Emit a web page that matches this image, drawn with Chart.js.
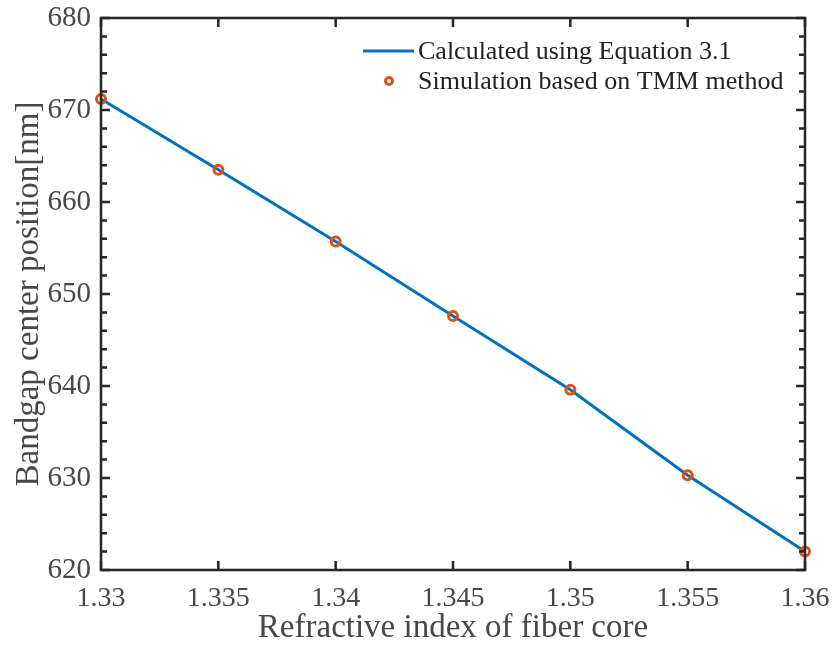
<!DOCTYPE html>
<html>
<head>
<meta charset="utf-8">
<script src="https://cdn.jsdelivr.net/npm/chart.js@4/dist/chart.umd.min.js"></script>
<style>
  html, body { margin: 0; padding: 0; background: #fff; }
  #wrap { width: 833px; height: 648px; }
</style>
</head>
<body>
<div id="wrap"><canvas id="c"></canvas></div>
<script>
// refractive index of the fiber core
const coreIndex = [1.33, 1.335, 1.34, 1.345, 1.35, 1.355, 1.36];
// bandgap centre from Equation 3.1 [nm]
const calcCenter = [671.2, 663.5, 655.7, 647.6, 639.6, 630.3, 622.0];
// bandgap centre from TMM simulation [nm]
const tmmCenter = [671.2, 663.5, 655.7, 647.6, 639.6, 630.3, 622.0];

const xTicks = [1.33, 1.335, 1.34, 1.345, 1.35, 1.355, 1.36];
const yTicks = [620, 630, 640, 650, 660, 670, 680];

const AXIS = "#262626";
const TEXT = "#474747";
const SERIF = "'Liberation Serif', 'DejaVu Serif', serif";

const toPts = (xs, ys) => xs.map((x, i) => ({ x: x, y: ys[i] }));

// MATLAB-style box with inward ticks
const boxAxes = {
  id: "boxAxes",
  afterDatasetsDraw(chart) {
    const { ctx, chartArea: a, scales } = chart;
    const xs = scales.x, ys = scales.y;
    ctx.save();
    ctx.strokeStyle = AXIS;
    ctx.lineWidth = 2.5;
    ctx.beginPath();
    xTicks.forEach(v => {
      const px = xs.getPixelForValue(v);
      ctx.moveTo(px, a.bottom); ctx.lineTo(px, a.bottom - 9);
      ctx.moveTo(px, a.top); ctx.lineTo(px, a.top + 9);
    });
    for (let v = 620; v <= 680; v += 2) {
      const len = (v % 10 === 0) ? 9 : 6;
      const py = ys.getPixelForValue(v);
      ctx.moveTo(a.left, py); ctx.lineTo(a.left + len, py);
      ctx.moveTo(a.right, py); ctx.lineTo(a.right - len, py);
    }
    ctx.stroke();
    ctx.strokeRect(a.left, a.top, a.right - a.left, a.bottom - a.top);
    ctx.restore();
  }
};

// legend in the upper right corner
const boxLegend = {
  id: "boxLegend",
  afterDraw(chart) {
    const { ctx } = chart;
    const ds = chart.data.datasets;
    ctx.save();
    ctx.font = "26px " + SERIF;
    ctx.fillStyle = "#222";
    ctx.textBaseline = "middle";
    ctx.textAlign = "left";
    // line entry
    ctx.strokeStyle = ds[0].borderColor;
    ctx.lineWidth = 3;
    ctx.beginPath();
    ctx.moveTo(363, 51); ctx.lineTo(414, 51);
    ctx.stroke();
    ctx.fillText(ds[0].label, 418, 52);
    // marker entry
    ctx.strokeStyle = ds[1].pointBorderColor;
    ctx.lineWidth = 3;
    ctx.beginPath();
    ctx.arc(389, 81, 3.5, 0, Math.PI * 2);
    ctx.stroke();
    ctx.fillText(ds[1].label, 418, 82);
    ctx.restore();
  }
};

new Chart(document.getElementById("c"), {
  type: "scatter",
  data: {
    datasets: [
      {
        label: "Calculated using Equation 3.1",
        data: toPts(coreIndex, calcCenter),
        showLine: true,
        borderColor: "#0072BD",
        borderWidth: 3,
        pointRadius: 0,
        tension: 0,
        clip: false,
        order: 2
      },
      {
        label: "Simulation based on TMM method",
        data: toPts(coreIndex, tmmCenter),
        showLine: false,
        pointRadius: 4.5,
        pointBorderWidth: 3,
        pointBorderColor: "#D95319",
        pointBackgroundColor: "rgba(0,0,0,0)",
        clip: false,
        order: 1
      }
    ]
  },
  options: {
    responsive: true,
    maintainAspectRatio: false,
    animation: false,
    layout: { padding: { top: 18, right: 28, left: 0, bottom: 0 } },
    plugins: { legend: { display: false }, tooltip: { enabled: false } },
    scales: {
      x: {
        type: "linear",
        min: 1.33,
        max: 1.36,
        afterBuildTicks: s => { s.ticks = xTicks.map(v => ({ value: v })); },
        afterFit: s => { s.height = 78; s.paddingLeft = 0; s.paddingRight = 0; },
        grid: { display: false, drawTicks: false },
        border: { display: false },
        ticks: {
          color: TEXT,
          padding: 12,
          maxRotation: 0,
          font: { family: SERIF, size: 28 },
          callback: v => String(parseFloat(v.toFixed(3)))
        },
        title: {
          display: true,
          text: "Refractive index of fiber core",
          color: TEXT,
          padding: { top: 0, bottom: 0 },
          font: { family: SERIF, size: 33 }
        }
      },
      y: {
        type: "linear",
        min: 620,
        max: 680,
        afterBuildTicks: s => { s.ticks = yTicks.map(v => ({ value: v })); },
        afterFit: s => { s.width = 101; s.paddingTop = 0; s.paddingBottom = 0; },
        grid: { display: false, drawTicks: false },
        border: { display: false },
        ticks: {
          color: TEXT,
          padding: 10,
          font: { family: SERIF, size: 29 }
        },
        title: {
          display: true,
          text: "Bandgap center position[nm]",
          color: TEXT,
          padding: { top: 10, bottom: 0 },
          font: { family: SERIF, size: 33 }
        }
      }
    }
  },
  plugins: [boxAxes, boxLegend]
});
</script>
</body>
</html>
